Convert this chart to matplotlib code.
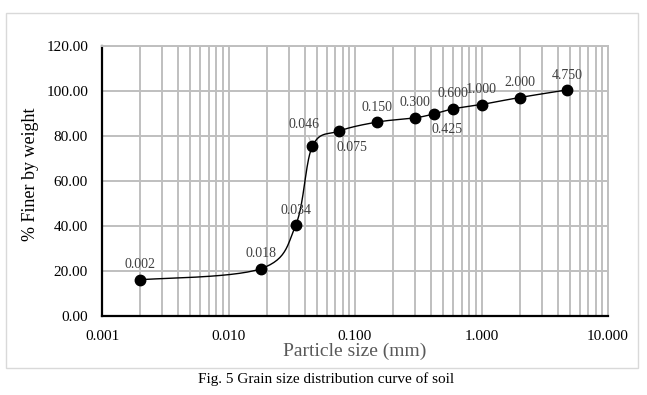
import numpy as np
import matplotlib.pyplot as plt
from matplotlib.patches import Rectangle

plt.rcParams['font.family'] = ['Liberation Serif', 'DejaVu Serif']

sizes = [0.002, 0.018, 0.034, 0.046, 0.075, 0.150, 0.300, 0.425, 0.600, 1.000, 2.000, 4.750]
finer = [16.1, 21.0, 40.4, 75.4, 82.2, 86.2, 88.1, 89.9, 92.1, 94.0, 97.1, 100.5]
labels = ['0.002', '0.018', '0.034', '0.046', '0.075', '0.150', '0.300', '0.425', '0.600', '1.000', '2.000', '4.750']
below = ['0.075', '0.425']

fig = plt.figure(figsize=(6.47, 3.95), dpi=100)
fig.patches.append(Rectangle((6 / 647, 1 - 368 / 395), 632 / 647, 355 / 395,
                             transform=fig.transFigure, fill=False, ec='#d9d9d9', lw=1))
ax = fig.add_axes([102 / 647, 1 - 316 / 395, 506 / 647, 270 / 395])

# smoothed line (Catmull-Rom in screen-ish space, like Excel)
sx, sy = 506 / 4, 270 / 120
u = np.log10(sizes) * sx
v = np.array(finer) * sy
pts = np.column_stack([u, v])
ext = np.vstack([pts[0], pts, pts[-1]])
curve = []
t = np.linspace(0, 1, 30)
for i in range(1, len(ext) - 2):
    p0, p1, p2, p3 = ext[i - 1], ext[i], ext[i + 1], ext[i + 2]
    c1 = p1 + (p2 - p0) / 6
    c2 = p2 - (p3 - p1) / 6
    seg = ((1 - t) ** 3)[:, None] * p1 + (3 * (1 - t) ** 2 * t)[:, None] * c1 \
        + (3 * (1 - t) * t ** 2)[:, None] * c2 + (t ** 3)[:, None] * p2
    curve.append(seg)
curve = np.vstack(curve)
ax.plot(10 ** (curve[:, 0] / sx), curve[:, 1] / sy, color='black', lw=1, zorder=3)
ax.plot(sizes, finer, 'o', color='black', ms=7.5, zorder=4)

for xv, yv, lab in zip(sizes, finer, labels):
    if lab in below:
        ax.annotate(lab, (xv, yv), xytext=(-2, -7), textcoords='offset points',
                    ha='left', va='top', color='#404040', fontsize=10)
    elif lab == '0.046':
        ax.annotate(lab, (xv, yv), xytext=(-6, 11), textcoords='offset points',
                    ha='center', va='bottom', color='#404040', fontsize=10,
                    arrowprops=dict(arrowstyle='-', color='#bfbfbf', lw=0.8))
    else:
        ax.annotate(lab, (xv, yv), xytext=(0, 6), textcoords='offset points',
                    ha='center', va='bottom', color='#404040', fontsize=10)

ax.set_xscale('log')
ax.set_xlim(0.001, 10)
ax.set_ylim(0, 120)
ax.set_yticks(np.arange(0, 121, 20))
ax.set_yticklabels(['%.2f' % y for y in np.arange(0, 121, 20)])
ax.set_xticks([0.001, 0.01, 0.1, 1, 10])
ax.set_xticklabels(['0.001', '0.010', '0.100', '1.000', '10.000'])
ax.tick_params(axis='both', which='both', length=0, labelsize=11, colors='black')
ax.tick_params(axis='x', pad=10)
ax.tick_params(axis='y', pad=10)
ax.grid(True, which='both', color='#bfbfbf', lw=1.4)
ax.set_axisbelow(True)
for s in ['top', 'right']:
    ax.spines[s].set_color('#bfbfbf')
    ax.spines[s].set_linewidth(1.4)
for s in ['left', 'bottom']:
    ax.spines[s].set_color('black')
    ax.spines[s].set_linewidth(1.6)

ax.set_xlabel('Particle size (mm)', fontsize=14, color='#595959', labelpad=0)
ax.set_ylabel('% Finer by weight', fontsize=13, color='black')
ax.yaxis.set_label_coords(-0.125, 0.525)

fig.text(326 / 647, 1 - 379 / 395, 'Fig. 5 Grain size distribution curve of soil',
         ha='center', va='center', fontsize=11)

fig.savefig('out.png', dpi=100)
